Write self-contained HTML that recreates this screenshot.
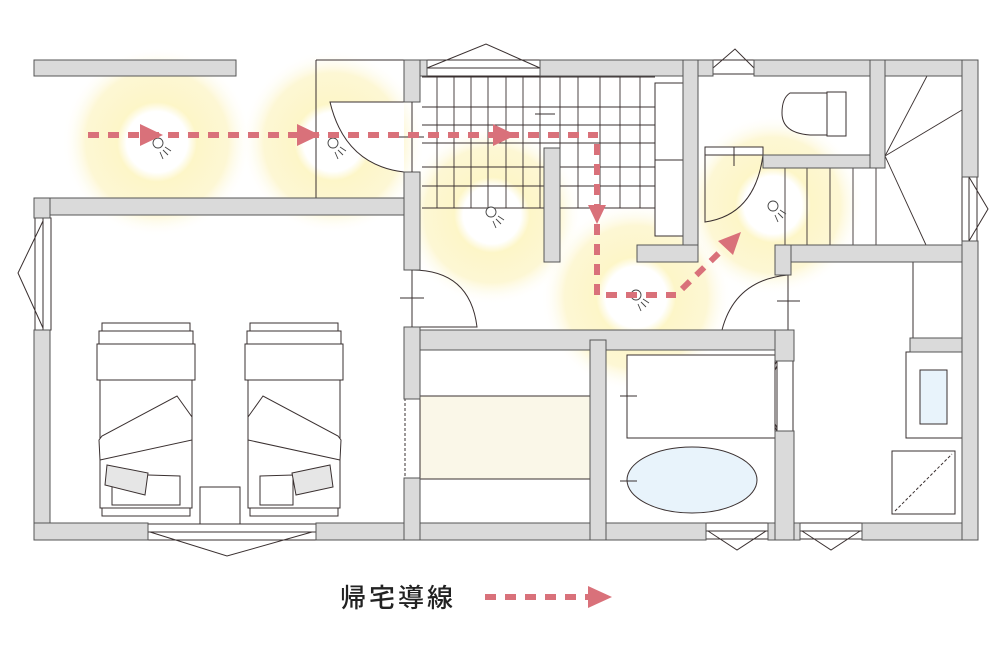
<!DOCTYPE html>
<html><head><meta charset="utf-8"><style>
html,body{margin:0;padding:0;background:#fff;}
svg{display:block;}
</style></head><body>
<svg width="1001" height="651" viewBox="0 0 1001 651" xmlns="http://www.w3.org/2000/svg">
<defs>
<radialGradient id="g">
<stop offset="0" stop-color="#fff" />
<stop offset="0.32" stop-color="#fff" />
<stop offset="0.42" stop-color="#fdf6c8" />
<stop offset="0.75" stop-color="#fdf7d4" />
<stop offset="1" stop-color="#fff" stop-opacity="0"/>
</radialGradient>
</defs>
<!-- glows -->
<circle cx="157" cy="142" r="95" fill="url(#g)"/>
<circle cx="333" cy="142" r="92" fill="url(#g)"/>
<circle cx="492" cy="215" r="90" fill="url(#g)"/>
<circle cx="636" cy="297" r="95" fill="url(#g)"/>
<circle cx="773" cy="205" r="90" fill="url(#g)"/>

<g fill="none" stroke="#3a3030" stroke-width="1">
<polyline points="316,60 316,198"/>
<line x1="316" y1="60" x2="405" y2="60"/>
<g stroke-width="0.9">
<line x1="422" y1="77" x2="655" y2="77"/>
<line x1="422" y1="107" x2="655" y2="107"/>
<line x1="422" y1="125" x2="655" y2="125"/>
<line x1="422" y1="143" x2="655" y2="143"/>
<line x1="422" y1="167" x2="655" y2="167"/>
<line x1="422" y1="186" x2="655" y2="186"/>
<line x1="422" y1="208" x2="655" y2="208"/>
<line x1="437" y1="77" x2="437" y2="208"/>
<line x1="454" y1="77" x2="454" y2="208"/>
<line x1="471" y1="77" x2="471" y2="208"/>
<line x1="488" y1="77" x2="488" y2="208"/>
<line x1="506" y1="77" x2="506" y2="208"/>
<line x1="523" y1="77" x2="523" y2="208"/>
<line x1="540" y1="77" x2="540" y2="208"/>
<line x1="560" y1="77" x2="560" y2="208"/>
<line x1="578" y1="77" x2="578" y2="208"/>
<line x1="600" y1="77" x2="600" y2="208"/>
<line x1="620" y1="77" x2="620" y2="208"/>
<line x1="640" y1="77" x2="640" y2="208"/>
<line x1="544" y1="148" x2="544" y2="260" stroke-dasharray="3,2"/>
<line x1="535" y1="114" x2="555" y2="114"/>
</g>
<rect x="655" y="83" width="28" height="77" fill="#fff"/>
<rect x="655" y="160" width="28" height="76" fill="#fff"/>
<rect x="427" y="60" width="113" height="16" fill="#fff"/>
<line x1="427" y1="68" x2="540" y2="68"/>
<polyline points="427,68 486,44 540,68"/>
<path d="M404,102 L330,102 Q345,165 404,172" fill="#fff"/>
<path d="M412,270 Q470,270 477,327 L412,327"/>
<rect x="705" y="147" width="58" height="8" fill="#fff"/>
<path d="M705,155 L705,222 Q755,215 763,155"/>
<line x1="734" y1="147" x2="734" y2="166"/>
<path d="M788,275 Q735,280 722,330 L788,330"/>
<line x1="788" y1="275" x2="788" y2="330"/>
<line x1="777" y1="301" x2="800" y2="301"/>
<path d="M827,93 L790,93 Q782,98 782,113 Q782,133 810,135 L827,135 Z" fill="#fff"/>
<rect x="827" y="92" width="19" height="44" fill="#fff"/>
<g stroke-width="0.9">
<line x1="785" y1="168" x2="785" y2="245"/>
<line x1="807" y1="168" x2="807" y2="245"/>
<line x1="830" y1="168" x2="830" y2="245"/>
<line x1="853" y1="168" x2="853" y2="245"/>
<line x1="876" y1="168" x2="876" y2="245"/>
<line x1="885" y1="156" x2="926" y2="245"/>
<line x1="885" y1="156" x2="927" y2="76"/>
<line x1="885" y1="156" x2="962" y2="110"/>
</g>
<rect x="962" y="177" width="15" height="64" fill="#fff"/>
<polyline points="969,177 988,209 969,241"/>
<line x1="969" y1="177" x2="969" y2="241"/>
<rect x="713" y="60" width="41" height="14" fill="#fff"/>
<polyline points="713,68 735,49 754,68"/>
<rect x="35" y="218" width="16" height="112" fill="#fff"/>
<line x1="43" y1="218" x2="43" y2="330"/>
<polyline points="43,221 18,273 43,328"/>
<rect x="148" y="524" width="168" height="16" fill="#fff"/>
<line x1="148" y1="532" x2="316" y2="532"/>
<polyline points="150,532 227,556 312,532"/>
<rect x="706" y="523" width="62" height="16" fill="#fff"/>
<line x1="706" y1="531" x2="768" y2="531"/>
<polyline points="708,531 737,550 766,531"/>
<rect x="800" y="523" width="62" height="16" fill="#fff"/>
<line x1="800" y1="531" x2="862" y2="531"/>
<polyline points="802,531 831,550 860,531"/>
<rect x="777" y="361" width="16" height="70" fill="#fff"/>
<polyline points="777,361 758,394 777,431"/>
<polyline points="777,366 762,397 777,428"/>
<rect x="420" y="396" width="170" height="83" fill="#faf7e8"/>
<line x1="405" y1="398" x2="405" y2="480" stroke-dasharray="3,2"/>
<line x1="420" y1="396" x2="420" y2="480" stroke-dasharray="3,2"/>
<rect x="627" y="355" width="148" height="83" fill="#fff"/>
<line x1="620" y1="396" x2="637" y2="396"/>
<ellipse cx="692" cy="480" rx="65" ry="33" fill="#e8f3fb"/>
<line x1="620" y1="481" x2="637" y2="481"/>
<line x1="913" y1="262" x2="913" y2="338"/>
<rect x="906" y="352" width="56" height="86" fill="#fff"/>
<rect x="920" y="370" width="27" height="54" fill="#e8f3fb"/>
<rect x="892" y="451" width="63" height="63" fill="#fff"/>
<line x1="895" y1="511" x2="952" y2="454" stroke-dasharray="3,2"/>
<g>
<rect x="102" y="323" width="88" height="8" fill="#fff"/>
<rect x="99" y="331" width="94" height="13" fill="#fff"/>
<rect x="97" y="344" width="98" height="36" fill="#fff"/>
<rect x="100" y="380" width="92" height="128" fill="#fff"/>
<path d="M99,440 L100,460 L192,440 L192,417 L177,396 L102,436 Z" fill="#fff"/>
<path d="M148,475 L180,476 L180,505 L112,505 L112,485" fill="#fff"/>
<path d="M107,465 L148,473 L145,495 L105,485 Z" fill="#e6e6e6"/>
<rect x="102" y="508" width="88" height="8" fill="#fff"/>
</g>
<g>
<rect x="250" y="323" width="88" height="8" fill="#fff"/>
<rect x="247" y="331" width="94" height="13" fill="#fff"/>
<rect x="245" y="344" width="98" height="36" fill="#fff"/>
<rect x="248" y="380" width="92" height="128" fill="#fff"/>
<path d="M341,440 L340,460 L248,440 L248,417 L263,396 L338,436 Z" fill="#fff"/>
<path d="M260,476 L293,475 L293,505 L260,505 Z" fill="#fff"/>
<path d="M292,473 L330,465 L333,487 L296,495 Z" fill="#e6e6e6"/>
<rect x="250" y="508" width="88" height="8" fill="#fff"/>
</g>
<rect x="200" y="487" width="40" height="37" fill="#fff"/>
</g>

<g fill="#dadada" stroke="#555" stroke-width="1">
<rect x="34" y="60" width="202" height="16"/>
<rect x="34" y="198" width="386" height="17"/>
<rect x="34" y="198" width="16" height="20"/>
<rect x="34" y="330" width="16" height="210"/>
<rect x="34" y="523" width="114" height="17"/>
<rect x="316" y="523" width="390" height="17"/>
<rect x="768" y="523" width="32" height="17"/>
<rect x="862" y="523" width="116" height="17"/>
<rect x="404" y="60" width="16" height="42"/>
<rect x="404" y="172" width="16" height="98"/>
<rect x="404" y="327" width="16" height="72"/>
<rect x="404" y="478" width="16" height="62"/>
<rect x="420" y="60" width="7" height="16"/>
<rect x="540" y="60" width="173" height="16"/>
<rect x="754" y="60" width="224" height="16"/>
<rect x="683" y="60" width="15" height="202"/>
<rect x="637" y="245" width="61" height="17"/>
<rect x="544" y="148" width="16" height="114"/>
<rect x="763" y="155" width="122" height="13"/>
<rect x="870" y="60" width="15" height="108"/>
<rect x="775" y="245" width="203" height="17"/>
<rect x="775" y="245" width="16" height="30"/>
<rect x="420" y="330" width="370" height="20"/>
<rect x="590" y="340" width="16" height="200"/>
<rect x="775" y="330" width="19" height="31"/>
<rect x="775" y="431" width="19" height="109"/>
<rect x="962" y="60" width="16" height="117"/>
<rect x="962" y="241" width="16" height="299"/>
<rect x="910" y="338" width="52" height="14"/>
</g>
<g stroke="#3a3030" fill="none">
<line x1="412" y1="102" x2="412" y2="172"/>
<line x1="412" y1="270" x2="412" y2="327"/>
<line x1="398" y1="137" x2="424" y2="137"/>
<line x1="400" y1="298" x2="424" y2="298"/>
</g>

<g fill="#fff" stroke="#444" stroke-width="0.9">
<circle cx="158" cy="143" r="5"/><path d="M163,150 l5,5 M160,152 l3,7 M165,147 l6,4"/>
<circle cx="333" cy="143" r="5"/><path d="M338,150 l5,5 M335,152 l3,7 M340,147 l6,4"/>
<circle cx="491" cy="212" r="5"/><path d="M496,219 l5,5 M493,221 l3,7 M498,216 l6,4"/>
<circle cx="636" cy="295" r="5"/><path d="M641,302 l5,5 M638,304 l3,7 M643,299 l6,4"/>
<circle cx="773" cy="206" r="5"/><path d="M778,213 l5,5 M775,215 l3,7 M780,210 l6,4"/>
</g>

<g stroke="#d9717a" stroke-width="6" fill="none" stroke-dasharray="11,9">
<line x1="88" y1="135" x2="598" y2="135"/>
<line x1="597" y1="144" x2="597" y2="295"/>
<line x1="606" y1="295" x2="676" y2="295"/>
<line x1="682" y1="289" x2="720" y2="252"/>
<line x1="485" y1="597" x2="590" y2="597"/>
</g>
<g fill="#d9717a">
<polygon points="140,124 163,135 140,146"/>
<polygon points="297,124 320,135 297,146"/>
<polygon points="493,124 516,135 493,146"/>
<polygon points="588,205 606,205 597,224"/>
<polygon points="741,232 733,255 718,241"/>
<polygon points="588,586 612,597 588,608"/>
</g>
<text x="340" y="607" font-family="'Liberation Sans','Noto Sans CJK JP',sans-serif" font-size="26" font-weight="500" fill="#222" letter-spacing="3">帰宅導線</text>
</svg>
</body></html>
